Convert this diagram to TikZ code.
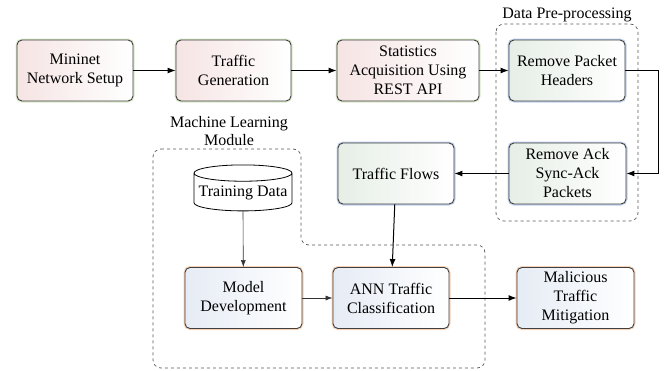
\documentclass[tikz,border=0pt]{standalone}
\usepackage{fontspec}
\setmainfont{Liberation Serif}
\usetikzlibrary{arrows.meta,shapes.geometric}
\definecolor{glowgreen}{HTML}{DCEACC}
\definecolor{glowblue}{HTML}{C0D0EC}
\definecolor{gloworange}{HTML}{F8D2B6}
\definecolor{fillpink}{HTML}{F6E4E4}
\definecolor{fillgrey}{HTML}{E6EEE6}
\definecolor{fillblue}{HTML}{E6ECF5}
\definecolor{edge}{HTML}{404040}
\begin{document}
\begin{tikzpicture}[x=1pt,y=-1pt,
  font=\fontsize{16}{19}\selectfont,
  stage/.style={draw=edge,line width=0.9pt,rounded corners=5pt,align=center,
    minimum width=116pt,minimum height=61pt,inner sep=2pt},
  topstage/.style={stage,left color=fillpink,middle color=fillpink!35,right color=white,
    preaction={draw=glowgreen,line width=3pt}},
  prestage/.style={stage,left color=fillgrey,middle color=fillgrey!45,right color=white,
    preaction={draw=glowblue,line width=3pt}},
  mlstage/.style={stage,left color=fillblue,middle color=fillblue!45,right color=white,
    preaction={draw=gloworange,line width=3pt}},
  flow/.style={draw=black,line width=1pt,-{Latex[length=8pt,width=6pt]}},
  thinflow/.style={draw=black!80,line width=0.6pt,-{Latex[length=7pt,width=5pt]}},
  group/.style={draw=black!65,dashed,line width=0.7pt,rounded corners=8pt}]
\useasboundingbox (0,0) rectangle (667,370);
\draw[group] (496,24) rectangle (638,221);
\draw[group] (153,149) -- (301,149) -- (301,245) -- (485,245) -- (485,368) -- (153,368) -- cycle;
\node (prelabel) at (567,15) {Data Pre-processing};
\node[align=center,font=\fontsize{16}{18}\selectfont] (mllabel) at (229,131) {Machine Learning\\Module};
\node[topstage] (mininet) at (75,70.5) {Mininet\\Network Setup};
\node[topstage,minimum width=115pt] (generation) at (233.5,70.5) {Traffic\\Generation};
\node[topstage,minimum width=142pt] (stats) at (408,70.5) {Statistics\\Acquisition Using\\REST API};
\node[prestage] (headers) at (567,70.5) {Remove Packet\\Headers};
\node[prestage,minimum width=117pt] (ack) at (567.5,173.5) {Remove Ack\\Sync-Ack\\Packets};
\node[prestage] (flows) at (396,173.5) {Traffic Flows};
\node[draw=black,line width=0.8pt,fill=white,cylinder,shape border rotate=90,aspect=0.18,
  minimum width=98pt,minimum height=46pt,inner sep=1pt] (data) at (243,193) {Training Data};
\node[mlstage,minimum width=117pt] (model) at (243.5,298) {Model\\Development};
\node[mlstage] (ann) at (391,298) {ANN Traffic\\Classification};
\node[mlstage,minimum width=117pt] (mitigation) at (575.5,298) {Malicious\\Traffic\\Mitigation};
\draw[flow] (mininet) -- (generation);
\draw[flow] (generation) -- (stats);
\draw[flow] (stats) -- (headers);
\draw[flow] (headers.east) -- ++(33,0) |- (ack.east);
\draw[flow] (ack) -- (flows);
\draw[flow] (flows) -- (ann);
\draw[thinflow] (data.bottom) -- (model);
\draw[thinflow] (model) -- (ann);
\draw[flow] (ann) -- (mitigation);
\end{tikzpicture}
\end{document}
